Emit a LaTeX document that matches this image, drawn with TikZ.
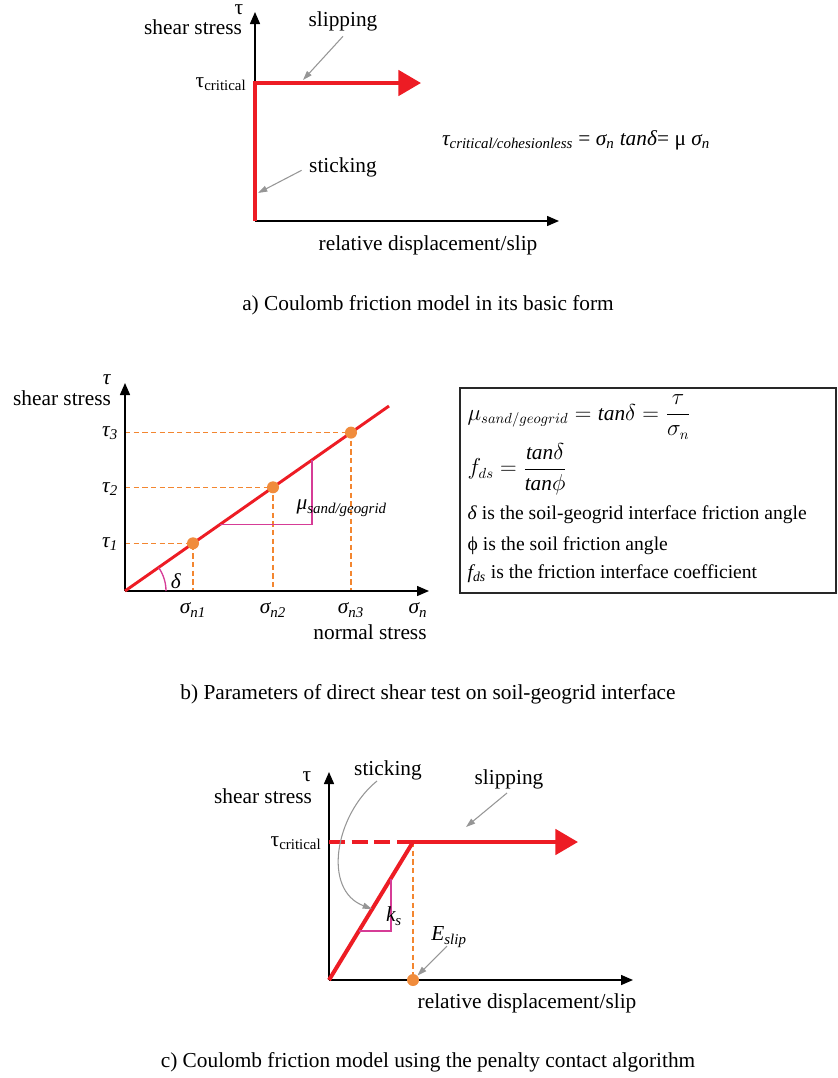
\documentclass[tikz,border=0pt]{standalone}
\usepackage{fontspec}
\setmainfont{Liberation Serif}
\usetikzlibrary{arrows.meta}
\definecolor{cred}{RGB}{237,28,36}
\definecolor{corange}{RGB}{243,134,48}
\definecolor{cdot}{RGB}{240,140,60}
\definecolor{cmag}{RGB}{214,60,150}
\definecolor{cgray}{RGB}{150,150,150}
\definecolor{cbox}{RGB}{40,40,40}
\newcommand\sbs[1]{\textsubscript{#1}}
\begin{document}
\begin{tikzpicture}[x=0.75pt,y=-0.75pt,
  font=\fontsize{16}{19}\selectfont,
  axis/.style={black,line width=1.1pt,-{Triangle[length=9pt,width=7.5pt]}},
  redthick/.style={cred,line width=3pt,line join=miter},
  bigtip/.style={-{Triangle[length=17pt,width=19pt]}},
  grayarrow/.style={cgray,line width=0.8pt,-{Triangle[length=7pt,width=4.5pt]}},
  odash/.style={corange,line width=1pt,dash pattern=on 4pt off 2.5pt},
  mag/.style={cmag,line width=1pt},
  odot/.style={circle,fill=cdot,inner sep=0pt,minimum size=9pt},
  lbl/.style={inner sep=1pt},
  boxtxt/.style={lbl,anchor=west,font=\fontsize{14.7}{17}\selectfont}]
\useasboundingbox (0,0) rectangle (838,1078);

% ---------------- Panel a ----------------
\coordinate (aO) at (255,221);
\coordinate (aY) at (255,12);
\coordinate (aX) at (559,221);
\coordinate (aC) at (255,83);
\coordinate (aE) at (421,83);
\draw[axis] (aO) -- (aY);
\draw[axis] (aO) -- (aX);
\draw[redthick,bigtip] (aO) -- (aC) -- (aE);
\node[lbl,anchor=east] (aTc) at (248,84) {τ\sbs{critical}};
\node[lbl] (aTau) at (239,10) {τ};
\node[lbl] (aSS) at (193,27) {shear stress};
\node[lbl] (aSlip) at (343,21) {slipping};
\coordinate (aSlipTo) at (303,80);
\draw[grayarrow] (aSlip.south) ++(0,4) -- (aSlipTo);
\node[lbl] (aStick) at (343,167) {sticking};
\coordinate (aStickTo) at (258,193);
\draw[grayarrow] (aStick.south west) ++(-6,-8) -- (aStickTo);
\node[lbl] (aRel) at (428,245) {relative displacement/slip};
\node[lbl] (aForm) at (576,140) {\textit{τ\sbs{critical/cohesionless}} = \textit{σ\sbs{n} tanδ}= μ \textit{σ\sbs{n}}};
\node[lbl] (aCap) at (428,305) {a) Coulomb friction model in its basic form};

% ---------------- Panel b ----------------
\coordinate (bO) at (125,591);
\coordinate (bY) at (125,383);
\coordinate (bX) at (429,591);
\coordinate (bL) at (389,406);
\coordinate (bP1) at (193,543.3);
\coordinate (bP2) at (273,487.3);
\coordinate (bP3) at (351,432.6);
\draw[odash] (125,543.3) -- (bP1) -- (193,591);
\draw[odash] (125,487.3) -- (bP2) -- (273,591);
\draw[odash] (125,432.6) -- (bP3) -- (351,591);
\draw[axis] (bO) -- (bY);
\draw[axis] (bO) -- (bX);
\draw[cred,line width=2.2pt] (bO) -- (bL);
\node[odot] (bD1) at (bP1) {};
\node[odot] (bD2) at (bP2) {};
\node[odot] (bD3) at (bP3) {};
\draw[mag] (220,524.4) -- (312,524.4) -- (312,460);
\draw[mag] (166,591) arc[start angle=0,end angle=-35,radius=41];
\node[lbl] (bDelta) at (176,581) {\textit{δ}};
\node[lbl,anchor=west] (bMu) at (295,508) {\textit{μ\sbs{sand/geogrid}}};
\node[lbl] (bT1) at (110,544) {\textit{τ\sbs{1}}};
\node[lbl] (bT2) at (110,489) {\textit{τ\sbs{2}}};
\node[lbl] (bT3) at (110,433) {\textit{τ\sbs{3}}};
\node[lbl] (bS1) at (193,610) {\textit{σ\sbs{n1}}};
\node[lbl] (bS2) at (273,610) {\textit{σ\sbs{n2}}};
\node[lbl] (bS3) at (351,610) {\textit{σ\sbs{n3}}};
\node[lbl] (bSn) at (418,610) {\textit{σ\sbs{n}}};
\node[lbl] (bNS) at (370,632) {normal stress};
\node[lbl] (bTau) at (107,380) {\textit{τ}};
\node[lbl] (bSS) at (62,398) {shear stress};
\node[draw=cbox,line width=1.2pt,minimum width=376*0.75pt,minimum height=205*0.75pt,inner sep=0pt] (bBox) at (648,490.5) {};
\node[lbl,anchor=west] (bF1) at (466,417) {$\mu_{sand/geogrid} = \mathit{tan}\delta = \displaystyle\frac{\tau}{\sigma_n}$};
\node[lbl,anchor=west] (bF2) at (466,469) {$f_{ds} = \displaystyle\frac{\mathit{tan}\delta}{\mathit{tan}\phi}$};
\node[boxtxt] (bL3) at (466,515) {\textit{δ} is the soil-geogrid interface friction angle};
\node[boxtxt] (bL4) at (466,546) {ϕ is the soil friction angle};
\node[boxtxt] (bL5) at (466,574) {\textit{f\sbs{ds}} is the friction interface coefficient};
\node[lbl] (bCap) at (428,694) {b) Parameters of direct shear test on soil-geogrid interface};

% ---------------- Panel c ----------------
\coordinate (cO) at (329,980);
\coordinate (cY) at (329,772);
\coordinate (cX) at (633,980);
\coordinate (cC) at (329,842);
\coordinate (cK) at (413,842);
\coordinate (cE) at (578,842);
\coordinate (cB) at (413,980);
\draw[odash] (cK) -- (cB);
\draw[axis] (cO) -- (cY);
\draw[axis] (cO) -- (cX);
\draw[redthick,dash pattern=on 12pt off 5pt] (cC) -- (cK);
\draw[redthick,bigtip] (cK) -- (cE);
\draw[redthick] (cO) -- (cK);
\node[odot] (cDot) at (cB) {};
\draw[mag] (358.8,931) -- (391,931) -- (391,878.6);
\node[lbl] (cKs) at (394,916) {\textit{k\sbs{s}}};
\node[lbl] (cEs) at (449,937) {\textit{E\sbs{slip}}};
\draw[grayarrow] (447,946) -- (cDot);
\node[lbl] (cStick) at (388,770) {sticking};
\coordinate (cStickTo) at (372,909);
\draw[grayarrow] (377,781) .. controls (335,815) and (322,890) .. (cStickTo);
\node[lbl] (cSlip) at (509,779) {slipping};
\coordinate (cSlipTo) at (466,827);
\draw[grayarrow] (507,793) -- (cSlipTo);
\node[lbl] (cTau) at (307,777) {τ};
\node[lbl] (cSS) at (263,796) {shear stress};
\node[lbl,anchor=east] (cTc) at (323,843) {τ\sbs{critical}};
\node[lbl] (cRel) at (527,1003) {relative displacement/slip};
\node[lbl] (cCap) at (428,1062) {c) Coulomb friction model using the penalty contact algorithm};
\end{tikzpicture}
\end{document}
